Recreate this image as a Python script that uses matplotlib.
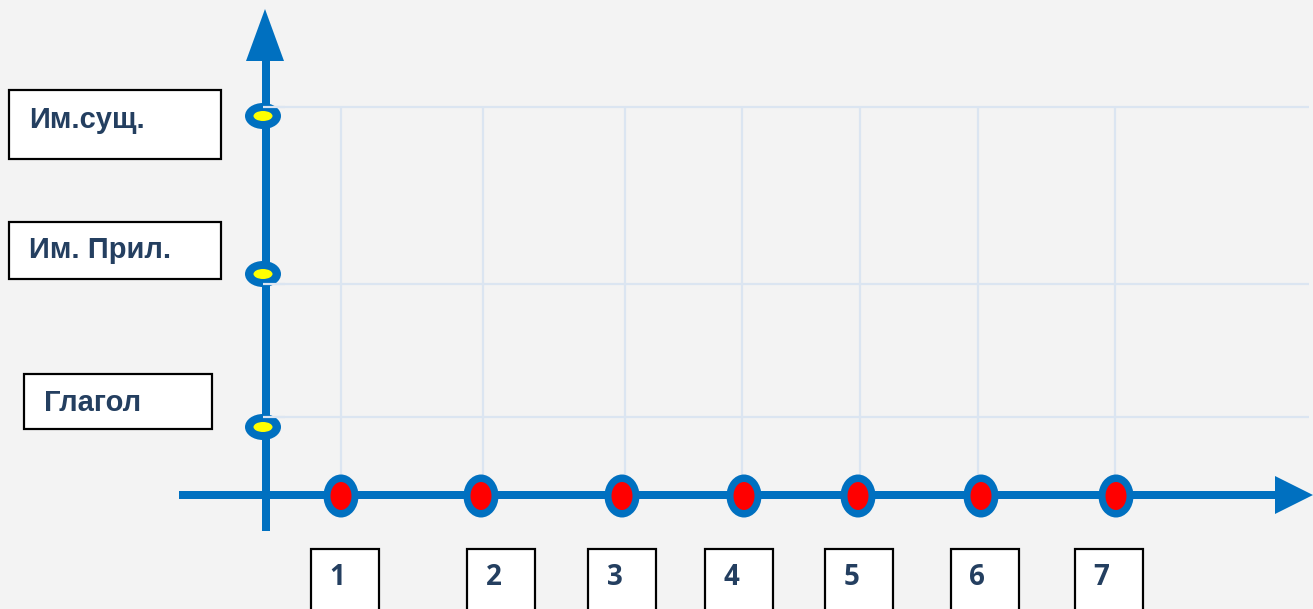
import matplotlib
matplotlib.use("Agg")
import matplotlib.pyplot as plt
from matplotlib.patches import Ellipse, Rectangle, Polygon

# ---- data ----
x_labels = ["1", "2", "3", "4", "5", "6", "7"]
x_points = [341, 481, 622, 744, 858, 981, 1116]      # positions along the horizontal axis
x_grid = [341, 483, 625, 742, 860, 978, 1115]
x_label_box_left = [311, 467, 588, 705, 825, 951, 1075]

y_labels = ["Им.сущ.", "Им. Прил.", "Глагол"]
y_points = [116, 274, 427]                            # positions along the vertical axis
y_grid = [107, 284, 417]
y_label_boxes = [(9, 90, 212, 69), (9, 222, 212, 57), (24, 374, 188, 55)]
y_label_text = [(29, 128), (29, 258), (44, 411)]

# ---- style ----
BG = "#f3f3f3"
BLUE = "#0070c0"
GRID = "#dbe5f1"
TXT = "#243f60"
W, H = 1313, 609
PX = 72 / 100.0  # points per pixel

fig = plt.figure(figsize=(W / 100, H / 100), dpi=100, facecolor=BG)
ax = fig.add_axes([0, 0, 1, 1])
ax.set_xlim(0, W)
ax.set_ylim(H, 0)
ax.set_facecolor(BG)
ax.axis("off")

x0, y0 = 266, 495  # axes origin

# grid
for gy in y_grid:
    ax.plot([263, 1309], [gy, gy], color=GRID, lw=2.2 * PX, zorder=1, solid_capstyle="butt")
for gx in x_grid:
    ax.plot([gx, gx], [y_grid[0], y0 - 10], color=GRID, lw=2.2 * PX, zorder=1, solid_capstyle="butt")

# axes lines
ax.plot([x0, x0], [531, 58], color=BLUE, lw=8 * PX, zorder=3, solid_capstyle="butt")
ax.add_patch(Polygon([(246, 61), (284, 61), (265, 9)], closed=True, color=BLUE, zorder=3, lw=0))
ax.plot([179, 1277], [y0, y0], color=BLUE, lw=8 * PX, zorder=3, solid_capstyle="butt")
ax.add_patch(Polygon([(1275, 476), (1275, 514), (1313, 495)], closed=True, color=BLUE, zorder=3, lw=0))

# points on vertical axis
for py in y_points:
    ax.add_patch(Ellipse((263, py), 36, 26, color=BLUE, zorder=4, lw=0))
    ax.add_patch(Ellipse((263, py), 19, 10, color="#ffff00", zorder=5, lw=0))

# horizontal grid segments overlapping near axis drawn above rings
for gy in y_grid:
    ax.plot([263, 285], [gy, gy], color=GRID, lw=2.2 * PX, zorder=4.5, solid_capstyle="butt")

# points on horizontal axis
for px in x_points:
    ax.add_patch(Ellipse((px, 496), 35, 43, color=BLUE, zorder=4, lw=0))
    ax.add_patch(Ellipse((px, 496), 21, 28, color="#ff0000", zorder=5, lw=0))

# left label boxes
for (bx, by, bw, bh), (tx, ty), lab in zip(y_label_boxes, y_label_text, y_labels):
    ax.add_patch(Rectangle((bx, by), bw, bh, facecolor="white", edgecolor="black",
                           lw=2.2 * PX, zorder=6))
    ax.text(tx, ty, lab, fontsize=21, fontweight="bold", color=TXT,
            family=["Liberation Sans", "DejaVu Sans"], ha="left", va="baseline", zorder=7)

# bottom number boxes
for bl, lab in zip(x_label_box_left, x_labels):
    ax.add_patch(Rectangle((bl, 549), 68, 70, facecolor="white", edgecolor="black",
                           lw=2.2 * PX, zorder=6, clip_on=True))
    ax.text(bl + 18.5, 585, lab, fontsize=20, fontweight="bold", color=TXT,
            family=["Open Sans", "DejaVu Sans"], ha="left", va="baseline", zorder=7)

fig.savefig("out.png", dpi=100, facecolor=BG)
